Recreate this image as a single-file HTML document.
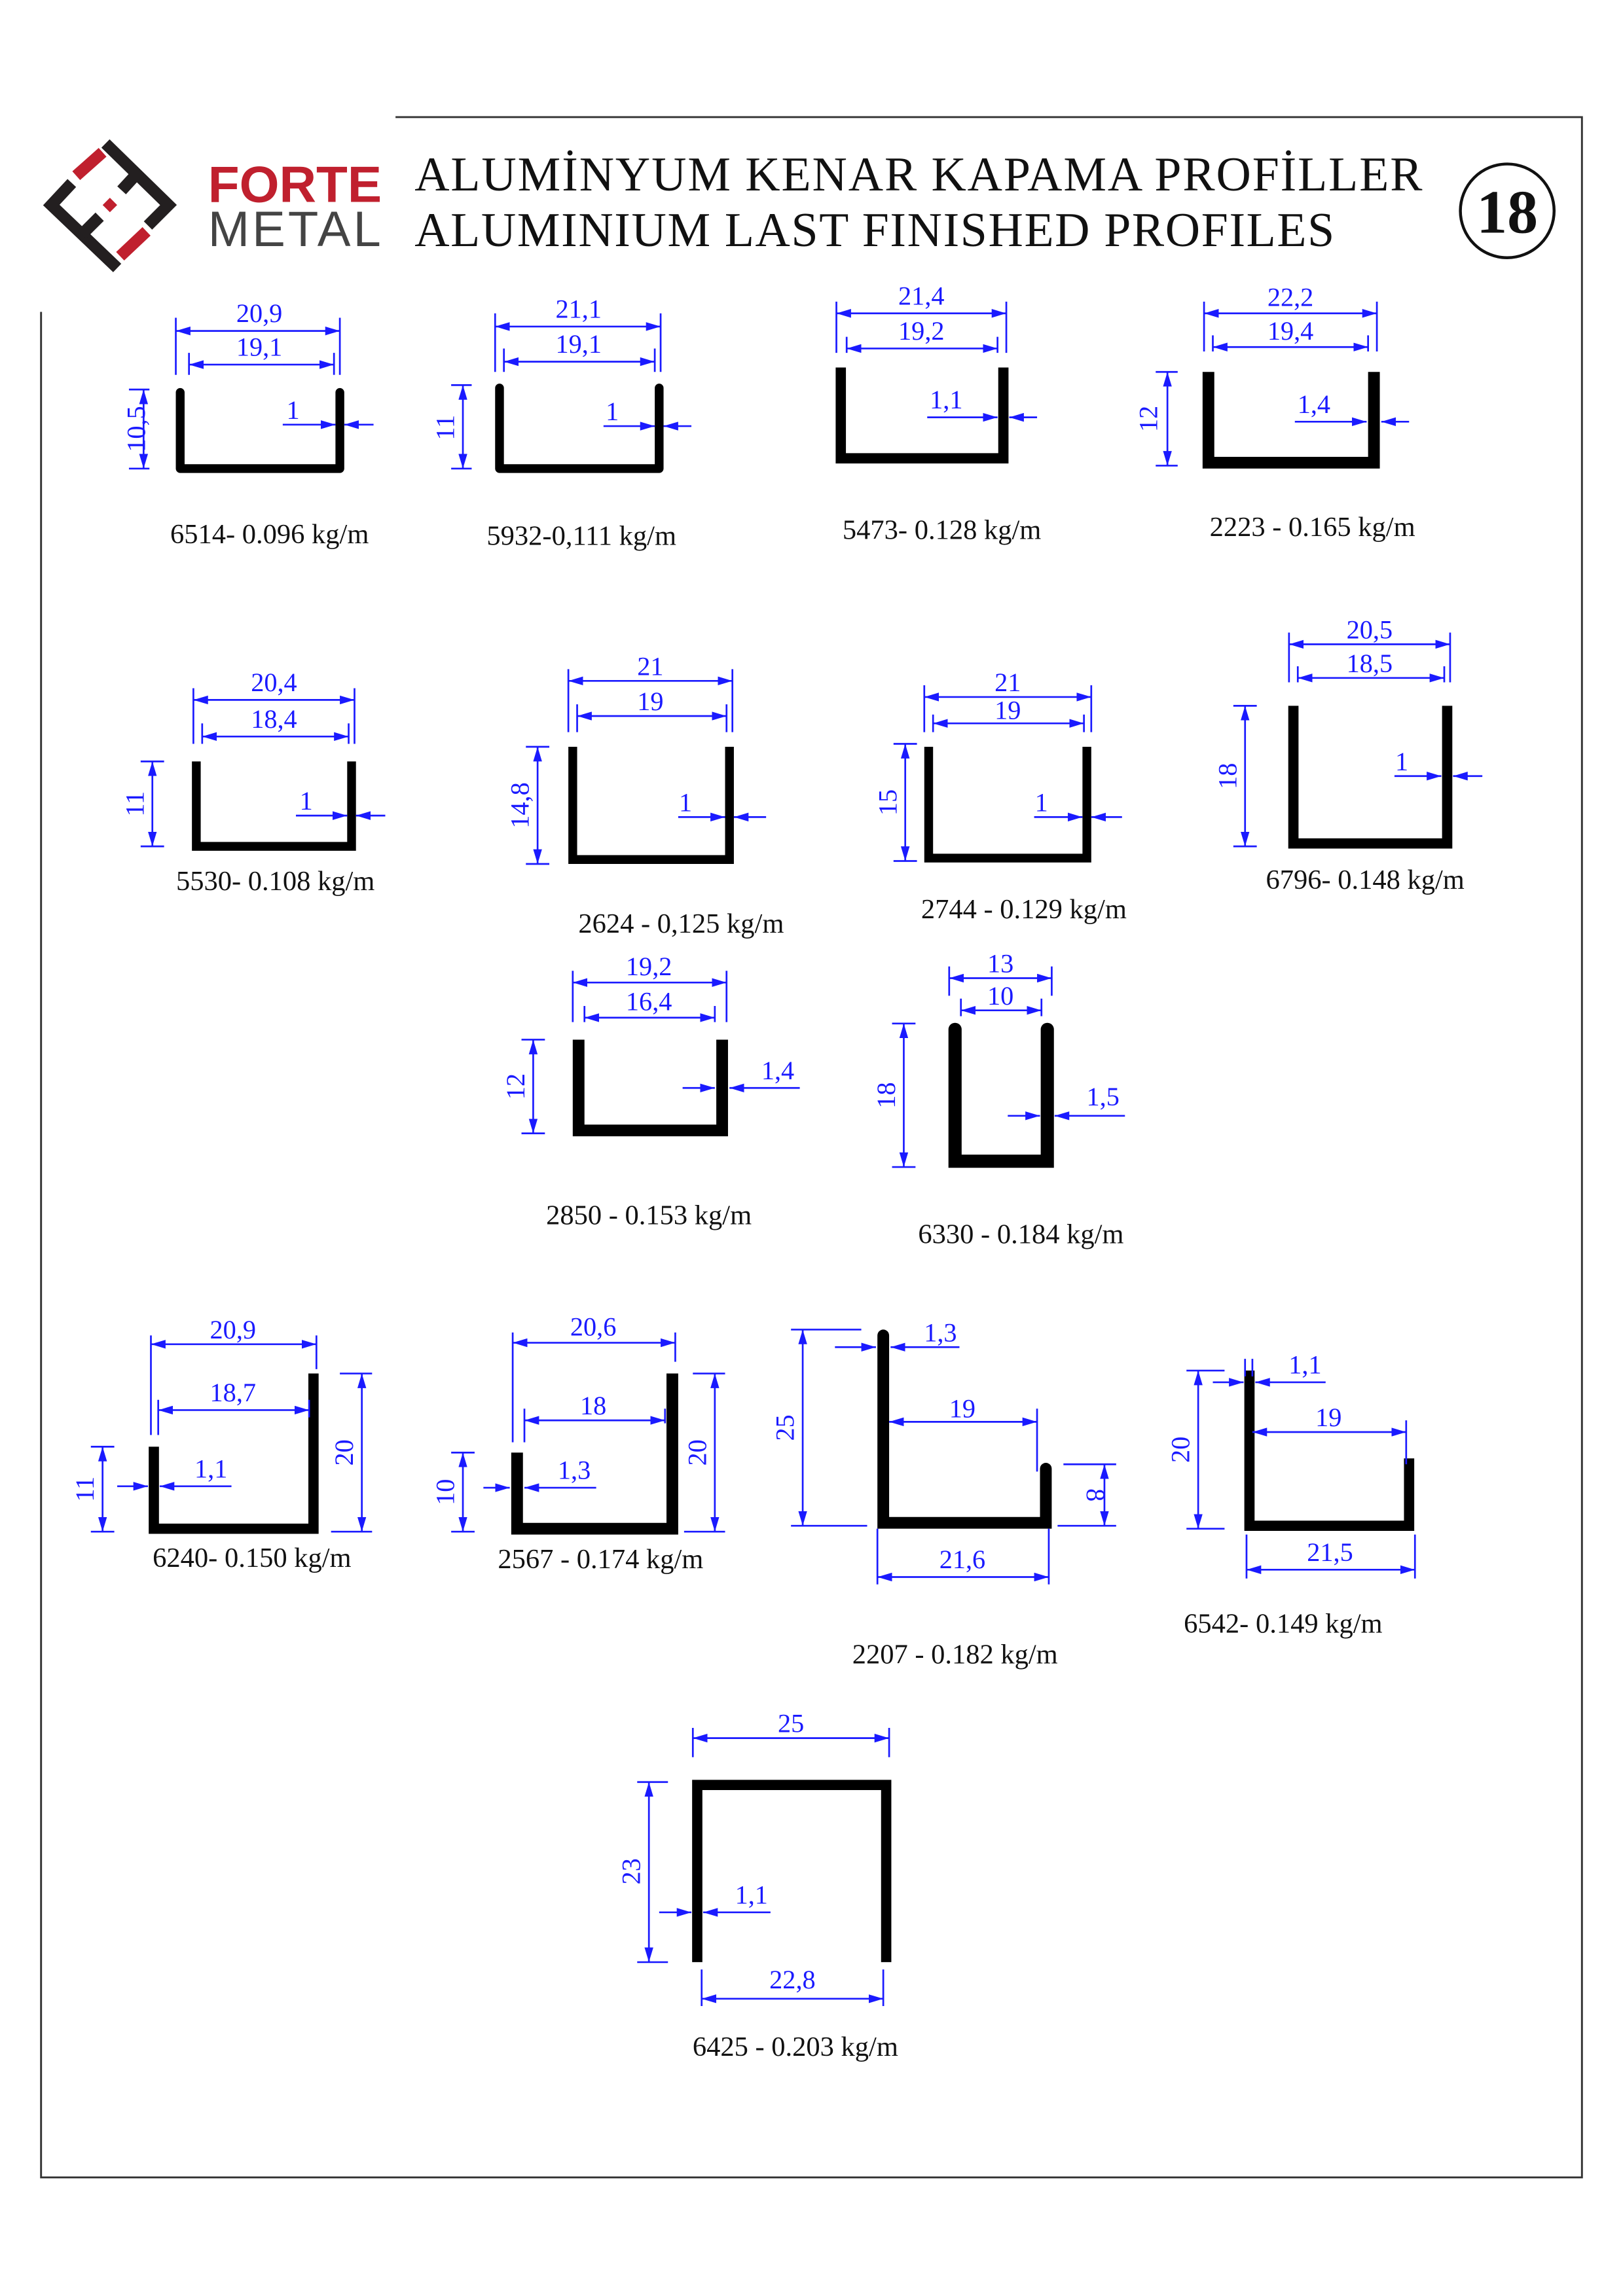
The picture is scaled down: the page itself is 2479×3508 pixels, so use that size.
<!DOCTYPE html>
<html><head><meta charset="utf-8">
<style>
html,body{margin:0;padding:0;background:#fff;}
svg{display:block;}
.p{stroke:#000;stroke-width:6;fill:none;stroke-linejoin:round;stroke-linecap:round;}
.d{stroke:#1a1aff;stroke-width:1.2;fill:none;}
.a{stroke:#1a1aff;stroke-width:1.2;fill:none;marker-start:url(#ar);marker-end:url(#ar);}
.e{stroke:#1a1aff;stroke-width:1.2;fill:none;marker-end:url(#ar);}
.t{font-family:"Liberation Serif",serif;font-size:18px;fill:#1a1aff;text-anchor:middle;}
.l{font-family:"Liberation Serif",serif;font-size:19px;fill:#111;text-anchor:middle;}
</style></head><body>
<svg width="2479" height="3508" viewBox="0 0 1108 1568" xmlns="http://www.w3.org/2000/svg">
<defs><marker id="ar" viewBox="0 0 10 6" refX="10" refY="3" markerWidth="10" markerHeight="6" markerUnits="userSpaceOnUse" orient="auto-start-reverse"><path d="M0,0 L10,3 L0,6 z" fill="#1a1aff"/></marker></defs>
<rect width="1108" height="1568" fill="#fff"/>
<!-- frame -->
<path d="M270,80 H1080 V1487 H28 V213" stroke="#333" stroke-width="1.3" fill="none"/>
<!-- logo -->
<g stroke-linecap="butt" stroke-linejoin="miter" fill="none">
<polyline points="72,98 115,140 101,154" stroke="#231f20" stroke-width="8"/>
<line x1="94" y1="118" x2="83" y2="130" stroke="#231f20" stroke-width="8"/>
<polyline points="49,125 35,140 80,183" stroke="#231f20" stroke-width="8"/>
<line x1="56" y1="160" x2="68" y2="148" stroke="#231f20" stroke-width="8"/>
<line x1="52" y1="120" x2="70" y2="104" stroke="#c0202e" stroke-width="8"/>
<line x1="82" y1="175" x2="100" y2="158" stroke="#c0202e" stroke-width="8"/>
<rect x="71.5" y="136.5" width="7" height="7" fill="#c0202e" transform="rotate(45 75 140)"/>
</g>
<text x="142" y="138" font-family="Liberation Sans,sans-serif" font-weight="bold" font-size="35" fill="#c0202e">FORTE</text>
<text x="142" y="168" font-family="Liberation Sans,sans-serif" font-size="34" fill="#444" textLength="118">METAL</text>
<text x="283" y="130" font-family="Liberation Serif,serif" font-size="33" fill="#111" textLength="688">ALUMİNYUM KENAR KAPAMA PROFİLLER</text>
<text x="283" y="168" font-family="Liberation Serif,serif" font-size="33" fill="#111" textLength="628">ALUMINIUM LAST FINISHED PROFILES</text>
<circle cx="1029" cy="144" r="32" stroke="#111" stroke-width="2" fill="none"/>
<text x="1029" y="159" font-family="Liberation Serif,serif" font-weight="bold" font-size="42" fill="#111" text-anchor="middle">18</text>

<!-- P1 6514 -->
<path class="p" d="M123,268 V320 H232 V268"/>
<path class="d" d="M120,217V256 M232,217V256 M129,241V256 M228,241V256 M88,266H102 M88,320H102"/>
<line class="a" x1="120" y1="226" x2="232" y2="226"/><text class="t" x="177" y="220">20,9</text>
<line class="a" x1="129" y1="249" x2="228" y2="249"/><text class="t" x="177" y="243">19,1</text>
<line class="a" x1="98" y1="266" x2="98" y2="320"/><text class="t" transform="rotate(-90 99 293)" x="99" y="293">10,5</text>
<line class="e" x1="193" y1="290" x2="229" y2="290"/><line class="e" x1="255" y1="290" x2="235" y2="290"/><text class="t" x="200" y="286">1</text>
<text class="l" x="184" y="371">6514- 0.096 kg/m</text>

<!-- P2 5932 -->
<path class="p" d="M341,265 V320 H450 V265"/>
<path class="d" d="M338,214V254 M451,214V254 M344,238V254 M447,238V254 M308,263H322 M308,320H322"/>
<line class="a" x1="338" y1="223" x2="451" y2="223"/><text class="t" x="395" y="217">21,1</text>
<line class="a" x1="344" y1="247" x2="447" y2="247"/><text class="t" x="395" y="241">19,1</text>
<line class="a" x1="316" y1="263" x2="316" y2="320"/><text class="t" transform="rotate(-90 310 292)" x="310" y="292">11</text>
<line class="e" x1="412" y1="291" x2="447" y2="291"/><line class="e" x1="472" y1="291" x2="453" y2="291"/><text class="t" x="418" y="287">1</text>
<text class="l" x="397" y="372">5932-0,111 kg/m</text>

<!-- P3 5473 -->
<path class="p" style="stroke-width:7;stroke-linejoin:miter;stroke-linecap:butt" d="M574,251 V313 H685 V251"/>
<path class="d" d="M571,206V241 M687,206V241 M578,230V241 M681,230V241"/>
<line class="a" x1="571" y1="214" x2="687" y2="214"/><text class="t" x="629" y="208">21,4</text>
<line class="a" x1="578" y1="238" x2="681" y2="238"/><text class="t" x="629" y="232">19,2</text>
<line class="e" x1="633" y1="285" x2="681" y2="285"/><line class="e" x1="708" y1="285" x2="689" y2="285"/><text class="t" x="646" y="279">1,1</text>
<text class="l" x="643" y="368">5473- 0.128 kg/m</text>

<!-- P4 2223 -->
<path class="p" style="stroke-width:8;stroke-linejoin:miter;stroke-linecap:butt" d="M825,254 V316 H938 V254"/>
<path class="d" d="M822,206V240 M940,206V240 M828,229V240 M934,229V240 M789,254H804 M789,318H804"/>
<line class="a" x1="822" y1="214" x2="940" y2="214"/><text class="t" x="881" y="209">22,2</text>
<line class="a" x1="828" y1="237" x2="934" y2="237"/><text class="t" x="881" y="232">19,4</text>
<line class="a" x1="797" y1="254" x2="797" y2="318"/><text class="t" transform="rotate(-90 790 286)" x="790" y="286">12</text>
<line class="e" x1="884" y1="288" x2="933" y2="288"/><line class="e" x1="962" y1="288" x2="943" y2="288"/><text class="t" x="897" y="282">1,4</text>
<text class="l" x="896" y="366">2223 - 0.165 kg/m</text>

<!-- P5 5530 -->
<path class="p" style="stroke-linejoin:miter;stroke-linecap:butt" d="M134,520 V578 H240 V520"/>
<path class="d" d="M132,470V508 M242,470V508 M138,494V508 M238,494V508 M96,520H112 M96,578H112"/>
<line class="a" x1="132" y1="478" x2="242" y2="478"/><text class="t" x="187" y="472">20,4</text>
<line class="a" x1="138" y1="503" x2="238" y2="503"/><text class="t" x="187" y="497">18,4</text>
<line class="a" x1="104" y1="520" x2="104" y2="578"/><text class="t" transform="rotate(-90 98 549)" x="98" y="549">11</text>
<line class="e" x1="202" y1="557" x2="237" y2="557"/><line class="e" x1="263" y1="557" x2="243" y2="557"/><text class="t" x="209" y="553">1</text>
<text class="l" x="188" y="608">5530- 0.108 kg/m</text>

<!-- P6 2624 -->
<path class="p" style="stroke-linejoin:miter;stroke-linecap:butt" d="M391,510 V587 H498 V510"/>
<path class="d" d="M388,457V500 M500,457V500 M394,481V500 M496,481V500 M359,510H375 M359,590H375"/>
<line class="a" x1="388" y1="465" x2="500" y2="465"/><text class="t" x="444" y="461">21</text>
<line class="a" x1="394" y1="489" x2="496" y2="489"/><text class="t" x="444" y="485">19</text>
<line class="a" x1="367" y1="510" x2="367" y2="590"/><text class="t" transform="rotate(-90 361 550)" x="361" y="550">14,8</text>
<line class="e" x1="463" y1="558" x2="495" y2="558"/><line class="e" x1="523" y1="558" x2="501" y2="558"/><text class="t" x="468" y="554">1</text>
<text class="l" x="465" y="637">2624 - 0,125 kg/m</text>

<!-- P7 2744 -->
<path class="p" style="stroke-linejoin:miter;stroke-linecap:butt" d="M634,510 V586 H742 V510"/>
<path class="d" d="M631,468V500 M745,468V500 M637,488V500 M740,488V500 M610,508H626 M610,588H626"/>
<line class="a" x1="631" y1="476" x2="745" y2="476"/><text class="t" x="688" y="472">21</text>
<line class="a" x1="637" y1="494" x2="740" y2="494"/><text class="t" x="688" y="491">19</text>
<line class="a" x1="618" y1="508" x2="618" y2="588"/><text class="t" transform="rotate(-90 612 548)" x="612" y="548">15</text>
<line class="e" x1="706" y1="558" x2="739" y2="558"/><line class="e" x1="766" y1="558" x2="745" y2="558"/><text class="t" x="711" y="554">1</text>
<text class="l" x="699" y="627">2744 - 0.129 kg/m</text>

<!-- P8 6796 -->
<path class="p" style="stroke-width:7;stroke-linejoin:miter;stroke-linecap:butt" d="M883,482 V576 H988 V482"/>
<path class="d" d="M880,432V466 M990,432V466 M886,455V466 M986,455V466 M842,482H858 M842,578H858"/>
<line class="a" x1="880" y1="440" x2="990" y2="440"/><text class="t" x="935" y="436">20,5</text>
<line class="a" x1="886" y1="463" x2="986" y2="463"/><text class="t" x="935" y="459">18,5</text>
<line class="a" x1="850" y1="482" x2="850" y2="578"/><text class="t" transform="rotate(-90 844 530)" x="844" y="530">18</text>
<line class="e" x1="952" y1="530" x2="984" y2="530"/><line class="e" x1="1012" y1="530" x2="992" y2="530"/><text class="t" x="957" y="526">1</text>
<text class="l" x="932" y="607">6796- 0.148 kg/m</text>

<!-- P9 2850 -->
<path class="p" style="stroke-width:8;stroke-linejoin:miter;stroke-linecap:butt" d="M395,710 V772 H493 V710"/>
<path class="d" d="M391,663V698 M496,663V698 M399,687V698 M488,687V698 M356,710H372 M356,774H372"/>
<line class="a" x1="391" y1="671" x2="496" y2="671"/><text class="t" x="443" y="666">19,2</text>
<line class="a" x1="399" y1="695" x2="488" y2="695"/><text class="t" x="443" y="690">16,4</text>
<line class="a" x1="364" y1="710" x2="364" y2="774"/><text class="t" transform="rotate(-90 358 742)" x="358" y="742">12</text>
<line class="e" x1="466" y1="743" x2="488" y2="743"/><line class="e" x1="546" y1="743" x2="498" y2="743"/><text class="t" x="531" y="737">1,4</text>
<text class="l" x="443" y="836">2850 - 0.153 kg/m</text>

<!-- P10 6330 -->
<path class="p" style="stroke-width:9;stroke-linejoin:miter;stroke-linecap:round" d="M652,703 V793 H715 V703"/>
<path class="d" d="M648,660V680 M718,660V680 M656,682V694 M711,682V694 M609,699H625 M609,797H625"/>
<line class="a" x1="648" y1="668" x2="718" y2="668"/><text class="t" x="683" y="664">13</text>
<line class="a" x1="656" y1="690" x2="711" y2="690"/><text class="t" x="683" y="686">10</text>
<line class="a" x1="617" y1="699" x2="617" y2="797"/><text class="t" transform="rotate(-90 611 748)" x="611" y="748">18</text>
<line class="e" x1="688" y1="762" x2="710" y2="762"/><line class="e" x1="768" y1="762" x2="720" y2="762"/><text class="t" x="753" y="755">1,5</text>
<text class="l" x="697" y="849">6330 - 0.184 kg/m</text>

<!-- P11 6240 -->
<path class="p" style="stroke-width:7;stroke-linejoin:miter;stroke-linecap:butt" d="M105,988 V1044 H214 V938"/>
<path class="d" d="M103,912V980 M216,912V935 M108,956V980 M211,956V968 M62,988H78 M62,1046H78 M232,938H254 M226,1046H254"/>
<line class="a" x1="103" y1="918" x2="216" y2="918"/><text class="t" x="159" y="914">20,9</text>
<line class="a" x1="108" y1="963" x2="211" y2="963"/><text class="t" x="159" y="957">18,7</text>
<line class="a" x1="70" y1="988" x2="70" y2="1046"/><text class="t" transform="rotate(-90 64 1017)" x="64" y="1017">11</text>
<line class="a" x1="247" y1="938" x2="247" y2="1046"/><text class="t" transform="rotate(-90 241 992)" x="241" y="992">20</text>
<line class="e" x1="80" y1="1015" x2="101" y2="1015"/><line class="e" x1="158" y1="1015" x2="109" y2="1015"/><text class="t" x="144" y="1009">1,1</text>
<text class="l" x="172" y="1070">6240- 0.150 kg/m</text>

<!-- P12 2567 -->
<path class="p" style="stroke-width:8;stroke-linejoin:miter;stroke-linecap:butt" d="M353,992 V1044 H459 V938"/>
<path class="d" d="M350,910V985 M461,910V930 M358,962V985 M454,962V972 M308,992H324 M308,1046H324 M473,938H495 M467,1046H495"/>
<line class="a" x1="350" y1="917" x2="461" y2="917"/><text class="t" x="405" y="912">20,6</text>
<line class="a" x1="358" y1="970" x2="454" y2="970"/><text class="t" x="405" y="966">18</text>
<line class="a" x1="316" y1="992" x2="316" y2="1046"/><text class="t" transform="rotate(-90 310 1019)" x="310" y="1019">10</text>
<line class="a" x1="488" y1="938" x2="488" y2="1046"/><text class="t" transform="rotate(-90 482 992)" x="482" y="992">20</text>
<line class="e" x1="330" y1="1016" x2="348" y2="1016"/><line class="e" x1="407" y1="1016" x2="358" y2="1016"/><text class="t" x="392" y="1010">1,3</text>
<text class="l" x="410" y="1071">2567 - 0.174 kg/m</text>

<!-- P13 2207 -->
<path class="p" style="stroke-width:8;stroke-linejoin:miter;stroke-linecap:round" d="M603,912 V1040 H714 V1003"/>
<path class="d" d="M540,908H588 M540,1042H592 M726,1000H762 M722,1042H762 M708,962V1005 M599,1044V1082 M716,1044V1082"/>
<line class="a" x1="548" y1="908" x2="548" y2="1042"/><text class="t" transform="rotate(-90 542 975)" x="542" y="975">25</text>
<line class="e" x1="570" y1="920" x2="598" y2="920"/><line class="e" x1="655" y1="920" x2="608" y2="920"/><text class="t" x="642" y="916">1,3</text>
<line class="a" x1="607" y1="971" x2="708" y2="971"/><text class="t" x="657" y="968">19</text>
<line class="a" x1="754" y1="1000" x2="754" y2="1042"/><text class="t" transform="rotate(90 742 1021)" x="742" y="1021">8</text>
<line class="a" x1="599" y1="1077" x2="716" y2="1077"/><text class="t" x="657" y="1071">21,6</text>
<text class="l" x="652" y="1136">2207 - 0.182 kg/m</text>

<!-- P14 6542 -->
<path class="p" style="stroke-width:7;stroke-linejoin:miter;stroke-linecap:butt" d="M853,936 V1042 H962 V996"/>
<path class="d" d="M810,936H836 M810,1044H836 M850,928V940 M855,928V940 M960,970V1000 M851,1048V1078 M966,1048V1078"/>
<line class="a" x1="818" y1="936" x2="818" y2="1044"/><text class="t" transform="rotate(-90 812 990)" x="812" y="990">20</text>
<line class="e" x1="828" y1="944" x2="849" y2="944"/><line class="e" x1="905" y1="944" x2="857" y2="944"/><text class="t" x="891" y="938">1,1</text>
<line class="a" x1="855" y1="978" x2="960" y2="978"/><text class="t" x="907" y="974">19</text>
<line class="a" x1="851" y1="1072" x2="966" y2="1072"/><text class="t" x="908" y="1066">21,5</text>
<text class="l" x="876" y="1115">6542- 0.149 kg/m</text>

<!-- P15 6425 -->
<path class="p" style="stroke-width:7;stroke-linejoin:miter;stroke-linecap:butt" d="M476,1340 V1219 H605 V1340"/>
<path class="d" d="M473,1180V1200 M607,1180V1200 M435,1217H456 M435,1340H456 M479,1345V1370 M603,1345V1370"/>
<line class="a" x1="473" y1="1187" x2="607" y2="1187"/><text class="t" x="540" y="1183">25</text>
<line class="a" x1="443" y1="1217" x2="443" y2="1340"/><text class="t" transform="rotate(-90 437 1278)" x="437" y="1278">23</text>
<line class="e" x1="450" y1="1306" x2="472" y2="1306"/><line class="e" x1="526" y1="1306" x2="480" y2="1306"/><text class="t" x="513" y="1300">1,1</text>
<line class="a" x1="479" y1="1365" x2="603" y2="1365"/><text class="t" x="541" y="1358">22,8</text>
<text class="l" x="543" y="1404">6425 - 0.203 kg/m</text>
</svg>
</body></html>
